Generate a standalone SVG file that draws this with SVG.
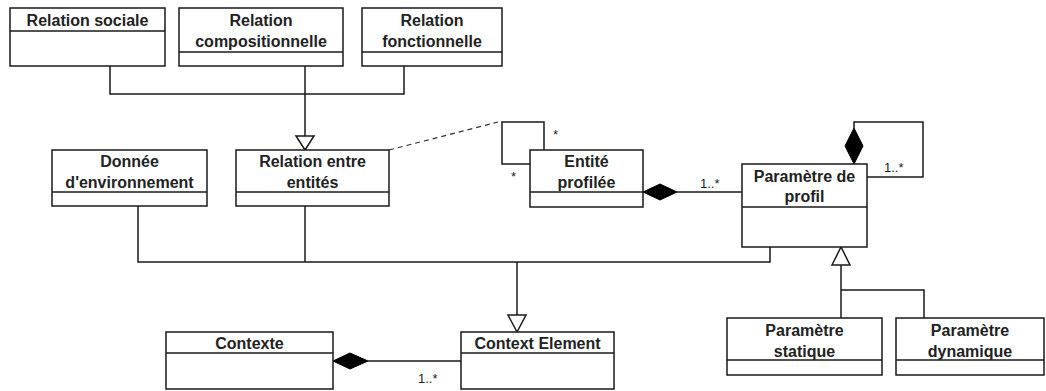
<svg xmlns="http://www.w3.org/2000/svg" width="1046" height="391" viewBox="0 0 1046 391">
<style>
.box{fill:#fff;stroke:#1a1a1a;stroke-width:1.5}
.div{stroke:#1a1a1a;stroke-width:1.5;fill:none}
.t{font-family:"Liberation Sans",Arial,sans-serif;font-weight:bold;font-size:16px;fill:#222;text-anchor:middle}
.m{font-family:"Liberation Sans",Arial,sans-serif;font-size:13px;fill:#222}
.ln{fill:none;stroke:#1a1a1a;stroke-width:1.5}
.dash{fill:none;stroke:#333;stroke-width:1.2;stroke-dasharray:5,4}
.dia{fill:#000;stroke:#000;stroke-width:1}
.tri{fill:#fff;stroke:#1a1a1a;stroke-width:1.5}
</style>
<rect width="1046" height="391" fill="#fff"/>
<g id="connectors">
<path class="ln" d="M110 66 V94 H404 V66"/>
<path class="ln" d="M305 66 V136"/>
<polygon class="tri" points="296,136 314,136 305,150"/>
<path class="dash" d="M389 150 L498 122"/>
<path class="ln" d="M530 164 H502 V122 H544 V150"/>
<path class="ln" d="M677 192 H742"/>
<polygon class="dia" points="643,192 660,184 677,192 660,200"/>
<path class="ln" d="M854 128 V122 H923 V177 H867"/>
<polygon class="dia" points="854,164 863,146 854,128 845,146"/>
<path class="ln" d="M138 206 V262 H770 V247"/>
<path class="ln" d="M305 206 V262"/>
<path class="ln" d="M517 262 V315"/>
<polygon class="tri" points="508,315 526,315 517,332"/>
<path class="ln" d="M841 265 V318"/>
<path class="ln" d="M841 290 H924 V318"/>
<polygon class="tri" points="832,265 850,265 841,247"/>
<path class="ln" d="M368 361 H461"/>
<polygon class="dia" points="333,361 350,353 368,361 350,369"/>
<text class="m" x="553" y="139">*</text>
<text class="m" x="511" y="181">*</text>
<text class="m" x="700" y="188">1..*</text>
<text class="m" x="884" y="172">1..*</text>
<text class="m" x="418" y="383">1..*</text>
</g>
<g id="relation-sociale">
<rect class="box" x="10" y="8" width="155" height="58"/>
<line class="div" x1="10" y1="31" x2="165" y2="31"/>
<text class="t" x="87.5" y="26">Relation sociale</text>
</g>
<g id="relation-compositionnelle">
<rect class="box" x="179" y="8" width="164" height="58"/>
<line class="div" x1="179" y1="52" x2="343" y2="52"/>
<text class="t" x="261" y="26">Relation</text>
<text class="t" x="261" y="47">compositionnelle</text>
</g>
<g id="relation-fonctionnelle">
<rect class="box" x="362" y="8" width="140" height="58"/>
<line class="div" x1="362" y1="52" x2="502" y2="52"/>
<text class="t" x="432" y="26">Relation</text>
<text class="t" x="432" y="47">fonctionnelle</text>
</g>
<g id="donnee-environnement">
<rect class="box" x="52" y="150" width="155" height="56"/>
<line class="div" x1="52" y1="192" x2="207" y2="192"/>
<text class="t" x="129.5" y="167">Donnée</text>
<text class="t" x="129.5" y="188">d'environnement</text>
</g>
<g id="relation-entre-entites">
<rect class="box" x="236" y="150" width="153" height="56"/>
<line class="div" x1="236" y1="192" x2="389" y2="192"/>
<text class="t" x="312.5" y="167">Relation entre</text>
<text class="t" x="312.5" y="188">entités</text>
</g>
<g id="entite-profilee">
<rect class="box" x="530" y="150" width="113" height="57"/>
<line class="div" x1="530" y1="192" x2="643" y2="192"/>
<text class="t" x="586.5" y="167">Entité</text>
<text class="t" x="586.5" y="188">profilée</text>
</g>
<g id="parametre-profil">
<rect class="box" x="742" y="164" width="125" height="83"/>
<line class="div" x1="742" y1="207" x2="867" y2="207"/>
<text class="t" x="804.5" y="182">Paramètre de</text>
<text class="t" x="804.5" y="202">profil</text>
</g>
<g id="parametre-statique">
<rect class="box" x="727" y="318" width="155" height="57"/>
<line class="div" x1="727" y1="360" x2="882" y2="360"/>
<text class="t" x="804.5" y="336">Paramètre</text>
<text class="t" x="804.5" y="357">statique</text>
</g>
<g id="parametre-dynamique">
<rect class="box" x="896" y="318" width="148" height="57"/>
<line class="div" x1="896" y1="360" x2="1044" y2="360"/>
<text class="t" x="970" y="336">Paramètre</text>
<text class="t" x="970" y="357">dynamique</text>
</g>
<g id="contexte">
<rect class="box" x="166" y="332" width="167" height="57"/>
<line class="div" x1="166" y1="353" x2="333" y2="353"/>
<text class="t" x="249.5" y="349">Contexte</text>
</g>
<g id="context-element">
<rect class="box" x="461" y="332" width="153" height="57"/>
<line class="div" x1="461" y1="353" x2="614" y2="353"/>
<text class="t" x="537.5" y="349">Context Element</text>
</g>
</svg>
